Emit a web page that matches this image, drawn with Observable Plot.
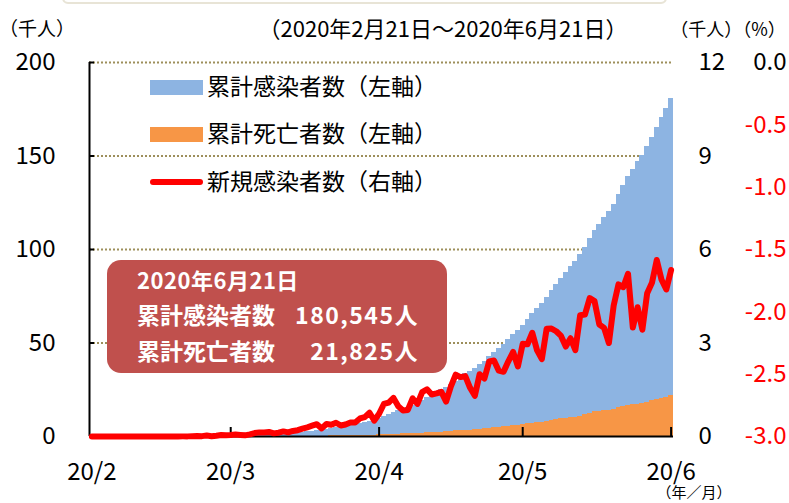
<!DOCTYPE html>
<html><head><meta charset="utf-8">
<script src="https://cdn.jsdelivr.net/npm/d3@7"></script>
<script src="https://cdn.jsdelivr.net/npm/@observablehq/plot@0.6"></script>
<style>
body{margin:0;background:#fff;}
#wrap{position:relative;width:789px;height:503px;overflow:hidden;font-family:"Noto Sans CJK JP","Noto Sans",sans-serif;background:#fff;}
#wrap svg{position:absolute;left:0;top:0;}
.t{position:absolute;white-space:nowrap;}
</style></head><body><div id="wrap"></div>
<script>
// ---- data (Feb 21 .. Jun 21, 2020; one value per day) ----
const startDate = "2020-02-21";
const cumCases = [0,0,0,0,0,0,2,4,5,5,
5,5,5,6,7,7,7,7,8,12,
16,26,41,53,82,93,118,164,203,251,
316,367,405,475,585,717,848,993,1094,1215,
1378,1510,1688,1890,2143,2439,2785,3181,3441,3844,
4219,4661,5014,5399,5847,6297,6875,7497,8261,8772,
9501,10544,11633,12872,13842,14677,15529,16752,17799,19224,
20739,22088,23471,24905,26025,27634,29616,31522,33460,35022,
36327,38324,40186,42595,45032,47144,49219,51633,54346,56594,
59567,62527,65856,68620,71105,74560,78023,81400,84627,87512,
90664,93435,97326,101238,105680,110026,113619,117103,120102,124301,
129184,133974,139196,142690,146837,150264,154863,159793,165455,170485,
175202,180545];
const cumDeaths = [0,0,0,0,0,0,0,0,0,
0,0,0,0,0,0,0,0,0,0,0,0,0,0,0,0,0,
1,1,2,2,2,4,4,6,8,12,16,20,28,29,
37,50,60,79,94,125,141,174,194,233,273,296,332,406,449,486,546,650,686,712,857,970,1069,1221,1305,1351,1434,1569,1732,1859,
1972,2061,2154,2271,2507,2704,2961,3160,3353,3465,3573,3926,4220,4477,4767,5045,5177,5332,5666,6090,6510,6989,7179,7394,7633,8134,8597,9044,9415,9779,9930,
10167,10637,11729,12545,13170,13511,13699,14053,14649,15357,15944,16448,16872,17141,17580,18310,19080,19747,20394,20781,21825];
const newCases = [0,0,0,0,0,0,2,2,1,0,
0,0,0,1,1,0,0,0,1,4,
4,10,15,12,29,11,25,46,39,48,
65,51,38,70,110,132,131,145,101,121,
163,132,178,202,253,296,346,396,260,403,
375,442,353,385,448,450,578,622,764,511,
729,1043,1089,1239,970,835,852,1223,1047,1425,
1515,1349,1383,1434,1120,1609,1982,1906,1938,1562,
1305,1997,1862,2409,2437,2112,2075,2414,2713,2248,
2973,2960,3329,2764,2485,3455,3463,3377,3227,2885,
3152,2771,3891,3912,4442,4346,3593,3484,2999,4199,
4883,4790,5222,3494,4147,3427,4599,4930,5662,5030,
4717,5343];
const tickDates = ["2020-02-21","2020-03-21","2020-04-21","2020-05-21","2020-06-21"];
const tickLabels = ["20/2","20/3","20/4","20/5","20/6"];
const leftTicks = [0,50,100,150,200];      // 千人 (left)
const rightMax = 12;                        // 千人 (right)
const pctTicks = [0.0,-0.5,-1.0,-1.5,-2.0,-2.5,-3.0];
const seriesNames = ["累計感染者数（左軸）","累計死亡者数（左軸）","新規感染者数（右軸）"];
const colors = {cases:"#8db4e2", deaths:"#f79646", line:"#ff0000"};

// ---- build ----
const t0 = new Date(startDate);
const rows = cumCases.map((c,i)=>({
  date: d3.utcDay.offset(t0,i),
  cases: c/1000, deaths: cumDeaths[i]/1000, newK: newCases[i]/1000
}));
const leftMax = d3.max(leftTicks);
const toLeft = v => v*leftMax/rightMax;
const pctToLeft = p => (p+3)/3*leftMax;
const tdates = tickDates.map(d=>new Date(d));
const FONT = '"Noto Sans CJK JP","Noto Sans",sans-serif';
const W=789,H=503,mL=89,mR=116,mT=62,mB=67;
const lastDate = rows[rows.length-1].date;
const x1f = d=>d3.utcHour.offset(d.date,-12);
const x2f = d=>d3.utcHour.offset(d.date, +d.date===+lastDate ? 12 : 20);

const chart = Plot.plot({
  width:W, height:H, marginLeft:mL, marginRight:mR, marginTop:mT, marginBottom:mB,
  style:{fontFamily:FONT, fontSize:"24px", color:"#000", background:"transparent", overflow:"visible"},
  x:{type:"utc", domain:[d3.utcHour.offset(t0,-12), d3.utcHour.offset(lastDate,12)]},
  y:{domain:[0,leftMax]},
  marks:[
    Plot.ruleY(leftTicks.filter(d=>d>0),{stroke:"#9d8f5b",strokeWidth:2,strokeDasharray:"2 2"}),
    Plot.rect(rows,{x1:x1f, x2:x2f, y1:0, y2:"cases", fill:colors.cases, inset:0, shapeRendering:"crispEdges"}),
    Plot.rect(rows,{x1:x1f, x2:x2f, y1:0, y2:"deaths", fill:colors.deaths, inset:0, shapeRendering:"crispEdges"}),
    Plot.ruleX([d3.utcHour.offset(t0,-12)],{stroke:"#000",strokeWidth:2}),
    Plot.ruleY(leftTicks.filter(d=>d>0),{stroke:"#000",strokeWidth:2,insetRight:W-mL-mR-5}),
    Plot.ruleY([0],{stroke:"#000",strokeWidth:2}),
    Plot.ruleX(tdates.slice(1),{stroke:"#000",strokeWidth:2,insetTop:H-mT-mB-9}),
    Plot.lineY(rows,{x:"date", y:d=>toLeft(d.newK), stroke:colors.line, strokeWidth:6, strokeLinejoin:"round", strokeLinecap:"round"}),
    Plot.axisY({anchor:"left", ticks:leftTicks, tickSize:0, tickPadding:34, fontSize:24, label:null}),
    Plot.axisY({anchor:"right", ticks:leftTicks, tickFormat:d=>String(d*rightMax/leftMax), tickSize:0, tickPadding:25, fontSize:24, label:null}),
    Plot.text(pctTicks.filter(p=>p===0),{y:pctToLeft, text:p=>p.toFixed(1), frameAnchor:"right", dx:113, textAnchor:"end", fill:"#000", fontSize:24}),
    Plot.text(pctTicks.filter(p=>p!==0),{y:pctToLeft, text:p=>p.toFixed(1), frameAnchor:"right", dx:113, textAnchor:"end", fill:"#ff0000", fontSize:24}),
    Plot.axisX({ticks:tdates, tickFormat:d=>tickLabels[tdates.findIndex(t=>+t===+d)], tickSize:0, tickPadding:26, fontSize:24, label:null})
  ]
});
const wrap = document.getElementById("wrap");
wrap.appendChild(chart);

function label(text,{x,y,size,anchor="start",color="#000",weight=400,spacing=0}){
  const el=document.createElement("div");
  el.className="t";
  el.textContent=text;
  el.style.fontSize=size+"px";
  el.style.lineHeight=size+"px";
  el.style.top=(y-0.56*size)+"px";
  el.style.left=x+"px";
  el.style.color=color;
  el.style.fontWeight=weight;
  if(spacing) el.style.letterSpacing=spacing+"px";
  if(anchor==="middle") el.style.transform="translateX(-50%)";
  if(anchor==="end") el.style.transform="translateX(-100%)";
  wrap.appendChild(el);
  return el;
}
function box(x,y,w,h,style){
  const el=document.createElement("div");
  el.style.position="absolute";
  el.style.left=x+"px";el.style.top=y+"px";el.style.width=w+"px";el.style.height=h+"px";
  Object.assign(el.style,style||{});
  wrap.appendChild(el);
  return el;
}
// faint frame remnant at top
box(62,-20,601,20,{border:"2px solid #e8e4d6",borderRadius:"6px"});
// header texts
label("（千人）",{x:37,y:29,size:19,anchor:"middle"});
label("（2020年2月21日～2020年6月21日）",{x:443,y:28,size:22,anchor:"middle"});
label("（千人）（%）",{x:728,y:29,size:18,anchor:"middle"});
label("（年／月）",{x:694,y:492,size:15,anchor:"middle"});
// legend
box(150,80,53,15,{background:colors.cases});
box(150,127,53,15,{background:colors.deaths});
box(150,179,53,6,{background:colors.line,borderRadius:"3px"});
label(seriesNames[0],{x:207,y:87,size:23});
label(seriesNames[1],{x:207,y:134,size:23});
label(seriesNames[2],{x:207,y:182,size:23});
// annotation
const last = cumCases.length-1;
box(107,260,340,113,{background:"#c0504d",borderRadius:"14px"});
label("2020年6月21日",{x:137,y:280,size:22,color:"#fff",weight:700,spacing:0.5});
label("累計感染者数",{x:137,y:316,size:23,color:"#fff",weight:700});
label("累計死亡者数",{x:137,y:352,size:23,color:"#fff",weight:700});
label(d3.format(",")(cumCases[last])+"人",{x:419,y:316,size:23,color:"#fff",weight:700,anchor:"end",spacing:1.5});
label(d3.format(",")(cumDeaths[last])+"人",{x:419,y:352,size:23,color:"#fff",weight:700,anchor:"end",spacing:1.5});
</script></body></html>
